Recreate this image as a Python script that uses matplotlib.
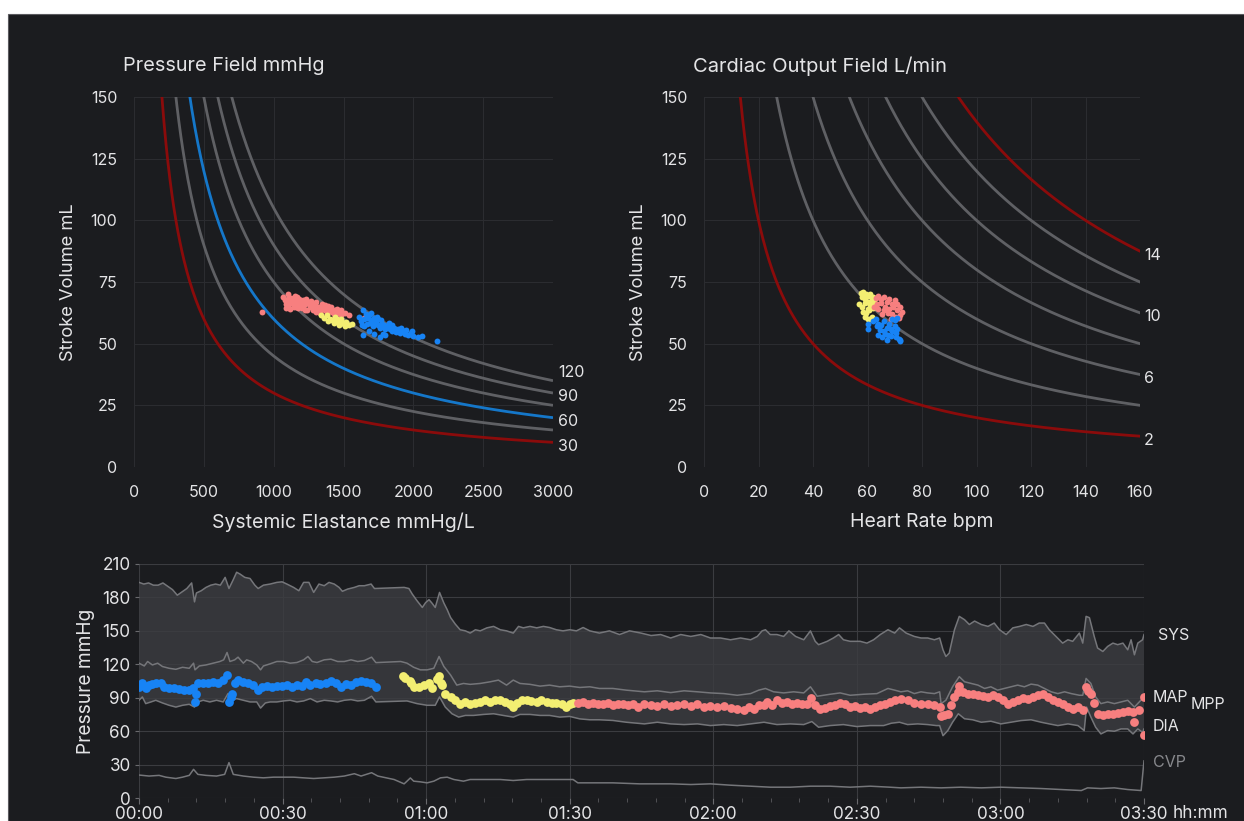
import numpy as np
import matplotlib

matplotlib.use("Agg")
import matplotlib.pyplot as plt
from matplotlib.patches import Rectangle
from matplotlib.transforms import blended_transform_factory

plt.rcParams["font.family"] = ["Inter", "DejaVu Sans"]

BG = "#1b1c1f"
TXT = "#e4e4e6"
GRID = "#2b2c30"
ISO = "#5f6064"
RED = "#8b0b0b"
BLUE_LINE = "#1577c9"
PINK = "#f77f7f"
YELLOW = "#f3ee72"
BLUE = "#1783f5"

# ---- top-left: pressure field (iso-pressure lines, mmHg) ----
pressure_levels = [30, 45, 60, 75, 90, 105]
pressure_labels = [120, 90, 60, 30]

pf_pink_e = [1070, 1085, 1100, 1110, 1125, 1140, 1150, 1165, 1180, 1195, 1210, 1220, 1235, 1250,
             1265, 1280, 1295, 1310, 1325, 1340, 1355, 1370, 1385, 1400, 1420, 1440, 1460, 1480,
             1510, 1540, 1090, 1120, 1160, 1200, 1240, 1280, 1330, 1380, 1430, 1480, 1130, 1175,
             1215, 1260, 1300, 920, 1650, 1080, 1105, 1135, 1170, 1190, 1230, 1270, 1300, 1345,
             1390, 1100, 1145, 1185, 1225, 1255, 1320, 1365, 1410, 1455]
pf_pink_sv = [69, 66, 70, 67, 68.5, 66, 69.5, 67, 68, 66.5, 67.5, 65.5, 66.8, 67,
              64.8, 66, 65.5, 64, 65, 63.5, 64.5, 63.8, 62.8, 64, 63, 63.5, 62.5, 61.5,
              62.5, 61.5, 64.5, 64, 65, 64.5, 63.8, 63.5, 62.5, 62, 62.2, 63.5, 66.5, 64.5,
              66, 65.2, 63, 63, 60.5, 67.5, 68, 67.5, 68.8, 65.5, 68.2, 67.2, 66.8, 66,
              65.3, 65.5, 65, 66.2, 63.8, 66.2, 64.6, 65.5, 64.8, 64]
pf_yellow_e = [1340, 1360, 1380, 1400, 1420, 1440, 1460, 1480, 1500, 1520, 1540, 1560, 1390,
               1430, 1470, 1510, 1450, 1490]
pf_yellow_sv = [61.5, 60.5, 61.8, 60, 59.5, 60.8, 58.8, 59.8, 58, 58.8, 57.5, 57.8, 59.2,
                58.5, 57.5, 57, 60, 58.6]
pf_blue_e = [1610, 1625, 1640, 1650, 1660, 1670, 1685, 1700, 1710, 1720, 1735, 1750, 1760, 1775,
             1790, 1800, 1815, 1830, 1845, 1860, 1875, 1890, 1905, 1920, 1940, 1960, 1980, 2000,
             2030, 2060, 2170, 1640, 1680, 1720, 1760, 1800, 1700, 1650, 1740, 1850, 1950, 1665,
             1690, 1715, 1745, 1770, 1795, 1825, 1870, 1910, 1990, 1630, 1780]
pf_blue_sv = [61, 59, 63.5, 60, 62, 58, 61.5, 59.5, 57, 60.5, 58.5, 59.8, 56.5, 58,
              57.5, 55.8, 57.2, 56, 55, 56.5, 54.8, 55.8, 54.2, 55.5, 54, 53.5, 54.5, 53,
              52.5, 53.3, 51, 53.5, 55, 53.8, 52.5, 53.5, 62.5, 57, 61, 57.5, 55.5, 60.5,
              58.5, 59, 57.5, 59.5, 56.8, 58.5, 55.2, 56.5, 55, 57.5, 54]

# ---- top-right: cardiac output field (iso-CO lines, L/min) ----
co_levels = [2, 4, 6, 8, 10, 12, 14]
co_red_levels = [2, 14]
co_labels = [14, 10, 6, 2]

co_yellow_hr = [57.5, 58, 58.5, 59, 59.5, 60, 60.5, 61, 61.5, 62, 62.5, 57, 58, 59, 60, 61, 62,
                58.5, 59.5, 60.5, 61.5, 59, 60, 61]
co_yellow_sv = [70.5, 69, 71, 68, 70, 69.5, 67, 70, 68.5, 69, 67, 66, 65, 66.5, 64, 65.5, 64.5,
                63, 62.5, 63.5, 61, 61, 60, 59.8]
co_pink_hr = [63, 64, 65, 66, 67, 68, 69, 70, 71, 72, 63.5, 65, 66.5, 68, 69.5, 71, 72.5, 64, 66,
              67.5, 69, 70.5, 72, 68.5, 70, 71.5, 65.5, 62.5]
co_pink_sv = [68.5, 69.5, 68, 69, 67, 68, 66, 67.5, 66, 65, 66, 66.5, 65, 64, 65, 63.5, 63, 64, 63.5,
              62.5, 62, 61, 61.5, 60, 59.8, 60.5, 62, 65]
co_blue_hr = [60, 60.3, 62, 63, 64, 64.5, 65, 66, 66.5, 67, 68, 68.5, 69, 70, 70.5, 71, 71.5, 72,
              64, 65.5, 67, 68.5, 70, 71, 66, 69, 70.5, 72, 63.5, 67.5]
co_blue_sv = [58, 56, 59, 60, 58, 55.5, 57.5, 59, 54, 56.5, 58, 53, 55, 57, 54.5, 56, 52, 51.5,
              53.5, 52.5, 51.5, 56, 59.5, 60.5, 55, 60, 52.5, 51, 57, 53.5]

# ---- bottom: pressure trends (minutes, mmHg) ----
sys_t = [0, 1, 2, 3, 4, 5, 6, 7, 8, 9, 10, 11, 11.6, 12, 13, 14, 15, 16, 17, 18, 18.8, 19.7, 20.4,
         21.1, 22.1, 23.2, 24.2, 24.9, 26, 27.4, 28.8, 29.9, 30.9, 32.3, 33.4, 34.4, 35.5, 36.5,
         37.6, 38.7, 39.7, 40.8, 41.8, 42.5, 43.6, 45, 46, 47.1, 48.5, 49.2,
         55.4, 56.4, 57.1, 58.1, 59.2, 59.9, 60.6, 61.2, 61.9, 62.8, 63.7, 64.4, 65.1, 66.1, 67.1,
         68.2, 69.2, 70.3, 71.3, 72.7, 74.1, 75.5, 76.8, 78.2, 79.3, 80.3, 81.7, 83.1, 84.5, 85.8,
         87.2, 88.6, 90, 91.4, 92.8, 94.2, 96.2, 98.3, 100.4, 102.5,
         104.9, 107, 109, 111.1, 113.2, 115.3, 117.4, 119.4, 121.5, 123.6, 125.7, 127.8, 129.2,
         130.2, 130.9, 131.9, 133.3, 134.7, 135.8, 137.2, 138.9, 140.3, 141.3, 142, 143.8, 145.1,
         146.2, 147.2, 148.6, 150.7, 152.1, 153.5, 154.9,
         156.5, 157.9, 158.9, 160.3, 162, 163.4, 164.8, 166.2, 167.3, 168, 168.6, 169.3, 170.4,
         171.4, 172.5, 173.5, 174.6, 176, 177.4, 178.7, 179.8, 181.2, 182.6, 184, 185.4, 186.8,
         188.1, 189.2, 190.2, 191.6, 193, 194.1, 195.1, 196.5, 197.2, 197.9, 198.6, 199.6, 200.3,
         201.4, 202.4, 203.5, 204.5, 205.6, 206.6, 207.3, 208, 208.7, 209.7, 210]
sys_v = [193.5, 192, 193, 191, 191, 193, 190, 187, 182, 185, 188, 193, 176, 184, 186, 189, 191, 192,
         191, 198, 188, 196, 202.6, 201, 198, 197, 191, 188, 191, 192, 193.5, 194, 192, 189, 186,
         193.5, 193.5, 184.5, 192, 190.5, 193.5, 192, 189, 185.5, 187.5, 189, 190.5, 190.5, 192, 188,
         189, 188, 183, 177, 171, 175.4, 178, 175, 171, 184.5, 175, 169, 162, 156, 151,
         150, 148, 151, 150, 152.7, 154, 151, 150, 148, 154, 152.7, 154, 152.7, 154, 153,
         151, 150, 151, 150, 153, 150, 148, 150, 146.7, 150,
         148, 145.8, 146.7, 143.6, 146.7, 145, 146.7, 143.6, 143.6, 142, 143.6, 142, 145,
         150, 151, 146.7, 146.7, 145, 150, 145, 142, 150, 140.6, 137.6, 140.6, 143.6,
         146.7, 142, 140.6, 140.6, 139, 142, 146.7,
         151, 148, 152.7, 148, 145, 143.6, 143.6, 142, 143.6, 133, 127, 130, 151,
         163, 160, 155.7, 158.8, 155.7, 154, 157, 151, 146.7, 152.7, 154, 155.7, 154,
         157, 157, 151, 145, 139, 142, 140.6, 148, 139, 163, 161.8, 145, 134.6,
         131.5, 136, 139, 137.6, 139, 133, 142, 128.5, 139, 142, 146.7]

map_t = [0, 1.1, 1.8, 2.8, 3.9, 4.9, 6.3, 7.7, 9.1, 10.5, 11.4, 11.7, 12.6, 14, 15.5, 16.9, 17.7,
         18.4, 19, 20, 20.7, 21.8, 22.5, 23.5, 24.6, 25.4, 26, 27.4, 28.8, 30.2, 31.6, 33, 34.4,
         35.3, 36.2, 37.2, 38.7, 40.1, 41.5, 42.9, 44.3, 45.7, 47.1, 48.6, 49.5,
         54.7, 56, 57.4, 58.8, 60.2, 61.6, 62.7, 63.7, 65.1, 66.4, 67.8, 69.2, 71.3, 73.4, 75.1,
         76.8, 78.2, 79.6, 81.7, 83.8, 85.8, 87.9, 90, 92.1, 94.2, 96.2, 99, 101.8,
         105.6, 108.3, 111.1, 113.9, 116.7, 119.4, 122.2, 125, 127.8, 129.5, 130.9, 132.6, 134.7,
         136.8, 138.9, 140.3, 141.7, 144.4, 146.5, 148.6, 151.4, 154.2,
         156.5, 157.9, 159.2, 160.6, 162, 163.4, 164.8, 166.2, 167.3, 167.6, 168.6, 170, 171.4,
         172.5, 173.9, 175.3, 176.7, 178, 179.4, 180.8, 182.2, 183.6, 185, 186.4, 187.8, 189.2,
         190.6, 192, 193.4, 194.8, 196.5, 197.2, 197.9, 198.9, 199.9, 201, 202.4, 203.8, 205.2,
         206.6, 208, 209, 210]
map_v = [121, 118.5, 122.5, 119.4, 121, 118, 116.4, 115.5, 117.3, 116.4, 121, 115, 118.5, 119.4,
         121, 122.5, 124, 130.6, 122.5, 124, 126.4, 121, 124, 122.5, 119.4, 115, 118.5, 120.4,
         122.5, 122.5, 121, 121.6, 124, 127, 122.5, 121.6, 124, 124.6, 122.5, 122.5, 124, 122.5,
         123.4, 126.4, 121.5,
         122.5, 121, 117.3, 115, 115, 116.4, 127, 118, 110.4, 101.3, 102.8, 102, 102.8, 104.3,
         105.8, 101.3, 105.8, 102.8, 102, 100.4, 101.3, 99.8, 100.4, 99.2, 99.8, 98.3, 98.3, 96.8,
         95.3, 96.2, 94.6, 96.2, 95.3, 94.3, 93.7, 92.2, 93.7, 96.8, 98.3, 95.3, 94.3,
         95.3, 94.3, 99.8, 91.3, 93.1, 94.3, 92.2, 93.1, 93.7,
         98.3, 96.8, 95.3, 96.2, 93.7, 95.3, 94.3, 93.7, 95.3, 84.7, 87.7, 99.8, 108.9,
         104.3, 102.8, 101.3, 98.3, 99.8, 96.8, 98.3, 99.8, 101.3, 99.8, 102.2, 101.3, 98.3,
         95.3, 93.7, 95.3, 93.7, 92.2, 92.2, 107.3, 102.8, 90.7, 84.7, 86.2, 84.7, 86.2,
         87.7, 81.6, 86.2, 90.7]

dia_t = [0, 0.7, 1.4, 2.5, 3.5, 4.9, 6.3, 7.7, 9.1, 10.5, 11.6, 12.3, 13.4, 14.8, 16.2, 17.6, 18.6,
         19.3, 20.4, 21.8, 23.2, 24.6, 25.4, 26.4, 27.4, 28.8, 30.2, 31.6, 33, 34.4, 35.8, 37.2,
         38.7, 40.1, 41.5, 42.9, 44.3, 45.7, 47.1, 48.6, 49.5,
         56, 58.1, 60.2, 61.9, 62.8, 64, 65.4, 66.8, 68.2, 69.9, 72, 74.1, 76.1, 78.2, 79.6, 81.7,
         83.8, 85.8, 87.9, 90, 92.1, 94.2, 96.2, 99, 101.8,
         105.6, 108.3, 111.1, 113.9, 116.7, 119.4, 122.2, 125, 127.8, 130.6, 133.3, 136.1, 138.9,
         140.6, 142, 144.4, 147.2, 150, 152.8, 155.6,
         157.2, 158.9, 160.6, 162.7, 164.8, 166.6, 167.3, 168, 169, 170, 171.2, 172.5, 174.2, 176,
         178, 180.1, 182.2, 184.3, 186.4, 188.5, 190.2, 192, 194.1, 196.2, 197.5, 198, 198.9,
         199.9, 201, 202.4, 203.8, 205.2, 206.6, 207.7, 208.7, 209.7, 210]
dia_v = [87.7, 90.7, 84.7, 86.2, 87.7, 85.3, 83.2, 81.6, 83.2, 84.1, 81.6, 86.2, 87.7, 86.2, 87.7,
         86.2, 93.7, 87.7, 89.2, 87.7, 86.2, 86.2, 80.7, 85.3, 86.2, 86.2, 87.1, 87.7, 86.2, 87.1,
         89.2, 86.2, 87.7, 87.1, 86.2, 87.7, 88.3, 87.1, 87.7, 91.3, 86.2,
         87.1, 84.7, 83.2, 83.2, 90.7, 81.6, 75.6, 72.6, 74.1, 74.1, 75, 75.6, 74.1, 72.6, 75, 75,
         74.1, 74.1, 72.6, 73.2, 71, 70.2, 70.2, 69.6, 68,
         66.5, 68, 66.5, 65.9, 66.5, 65, 65.9, 65, 66.5, 68, 65.9, 66.5, 65.9,
         68.6, 63.5, 65, 65.9, 64.1, 65, 65,
         67.1, 68, 65.9, 66.5, 65.9, 65, 65, 55.9, 60.5, 68, 75.6, 71.1, 70.2, 68,
         68.9, 66.5, 68, 69.5, 70.2, 68, 66.5, 65, 66.5, 65, 60.5, 81.6, 72.6,
         63.5, 57.5, 60.5, 59.9, 62, 62, 57.5, 62, 59, 62]

cvp_t = [0, 2.1, 4.2, 5.6, 7.7, 9.1, 10.5, 11.4, 12.3, 14, 16.2, 17.9, 18.8, 19.7, 21.8, 23.9, 26,
         28.1, 30.2, 32.3, 34.4, 36.5, 38.7, 40.8, 42.9, 45, 46.4, 48.6, 49.9,
         53.3, 55.4, 56, 56.7, 57.4, 58.8, 60.2, 61.6, 63, 64.4, 65.8, 67.8, 69.2, 71.3, 75.5, 78.2,
         81, 86.5, 90.7, 91.7, 94.9, 99, 104.6, 107, 111.1, 115.3, 119.4, 123.6, 127.8, 131.9,
         136.1, 140.3, 144.4, 148.6, 152.8, 156.9, 159.2, 163.4, 167.6, 171.7, 176, 180.1, 184.3,
         188.5, 192.7, 196.9, 198.2, 201, 203.8, 206.6, 209.4, 210]
cvp_v = [20.6, 19.7, 20.3, 18.7, 17.5, 18.7, 20.3, 25.7, 21.2, 20.3, 19.7, 21.2, 31.8, 21.2, 19.7,
         18.7, 18.1, 18.7, 18.7, 18.7, 18.1, 17.5, 18.1, 18.7, 19.7, 21.8, 19.7, 22.7, 19.7,
         16.6, 12.7, 15.1, 18, 15.1, 14.5, 13.6, 15.1, 18.1, 18.7, 16.6, 15.1, 16.6, 16.6, 16.6, 15.7,
         16.6, 16.6, 16.6, 13.6, 13.6, 13.6, 12.7, 12.7, 12.7, 12.1, 12.7, 11.5, 10.6, 9.7,
         9.7, 10.6, 10.6, 9.7, 10.6, 9.7, 9.1, 9.7, 9.1, 9.7, 9.1, 9.7, 9.1,
         8.5, 7.6, 6.7, 9.1, 8.5, 9.1, 7.6, 6.7, 33.3]

# MPP points, coloured by phase
mpp_blue_t = [0, 0.7, 1.4, 2.1, 2.8, 3.5, 4.6, 5.3, 6.3, 7.4, 8.4, 9.5, 10.5, 11.2, 11.6, 11.9, 12.3,
              13.4, 14.4, 15.5, 16.5, 17.6, 18.3, 18.8, 19.2, 19.5, 20, 20.7, 21.8, 22.8, 23.9, 24.9,
              25.6, 26.7, 27.8, 28.8, 29.9, 30.9, 32, 33, 34.1, 34.8, 35.8, 36.9, 37.9, 39, 40.1,
              41.1, 42.2, 43.2, 44.3, 45.3, 46.4, 47.4, 48.5, 49.5]
mpp_blue_v = [99.8, 102.8, 98.3, 101.3, 102.2, 103.4, 102.8, 99.8, 98.3, 98.3, 97.4, 96.8, 96.8, 98.3,
              86.2, 93.7, 102.8, 102.8, 103.4, 104.3, 103.4, 105.8, 110.4, 86.2, 90.7, 93.7, 102.8,
              105.8, 104.3, 102.8, 101.3, 96.8, 99.8, 100.4, 99.8, 100.4, 100.4, 101.3, 99.8, 101.3,
              100.4, 104.3, 101.3, 102.8, 102.2, 103.4, 105.2, 102.8, 99.8, 102.2, 101.3, 104.3,
              105.2, 104.3, 103.4, 99.8]
mpp_yellow_t = [55.2, 55.5, 56.6, 56.9, 57.4, 58.5, 59.5, 60.6, 61.2, 62.3, 62.6, 63, 63.3, 64, 65.1,
                66.1, 67.1, 68.2, 69.2, 70.3, 71.3, 72.3, 73.4, 74.4, 75.5, 76.5, 77.5, 78.2, 78.9,
                80, 81, 82, 83.1, 84.1, 85.2, 86.2, 87.2, 88.3, 89.3, 90, 90.7]
mpp_yellow_v = [109.5, 107.3, 105.2, 103.4, 99.2, 99.8, 101.3, 102.8, 98.3, 106.4, 109.5, 102.8,
                101.3, 93.7, 90.7, 87.7, 84.1, 86.2, 84.7, 85.3, 86.2, 87.7, 86.2, 88.3, 87.7, 86.2,
                84.7, 81.6, 85.3, 87.7, 88.3, 87.1, 86.2, 87.7, 86.2, 85.3, 85.3, 84.1, 81.6, 84.7,
                85.3]
mpp_pink_t = [91.7, 92.8, 93.8, 94.9, 95.9, 96.9, 98, 99, 100.1, 101.1, 102.1, 103.2, 104.2, 105.6,
              107, 108.3, 109.7, 111.1, 112.5, 113.9, 115.3, 116.7, 118.1, 119.4, 120.8, 122.2,
              123.6, 125, 126.4, 127.4, 128.5, 129.5, 130.6, 131.3, 132.3, 133.3, 134.4, 135.4,
              136.5, 137.5, 138.5, 139.6, 140.4, 141.3, 142.4, 143.4, 144.4, 145.5, 146.5, 147.6,
              148.6, 149.7, 150.7, 151.7, 152.8, 153.8, 154.9, 155.9, 156.9, 157.9, 159.2, 160.6,
              162, 163.4, 164.8, 166.2, 167.3, 167.6, 168.3, 169, 169.7, 170.4, 171.1, 171.4, 172.1,
              173.2, 174.2, 175.3, 176.3, 177.4, 178.4, 179.4, 180.5, 181.5, 182.6, 183.6, 184.7,
              185.7, 186.8, 187.8, 188.8, 189.9, 190.9, 192, 193, 194.1, 195.1, 196.2, 197.2, 197.9,
              198.4, 198.9, 199.5, 200.3, 201.4, 202.4, 203.5, 204.5, 205.6, 206.6, 207.6, 208, 209,
              210.1, 210.1]
mpp_pink_v = [85.3, 86.2, 84.7, 85.3, 84.1, 84.7, 85.3, 83.2, 84.7, 84.1, 83.2, 84.1, 81.6, 84.1,
              83.2, 82.2, 84.1, 82.2, 83.2, 84.1, 82.8, 84.1, 81.6, 82.2, 81.6, 82.2,
              81, 80.1, 78.6, 81.6, 80.1, 83.2, 83.2, 86.2, 83.2, 87.7, 85.3, 86.2,
              84.7, 85.3, 84.1, 84.1, 90.1, 83.2, 80.1, 81, 82.2, 83.2, 85.3, 84.1,
              81.6, 82.2, 81, 81.6, 80.1, 81.6, 83.2, 84.7, 86.2, 87.7, 89.2, 87.7,
              85.3, 84.7, 84.1, 83.2, 81.6, 73.2, 74.1, 75.6, 83.2, 90.7, 95.3, 100.4, 95.3,
              93.7, 93.1, 92.2, 91.3, 90.7, 92.2, 90.7, 87.7, 84.1, 86.2, 88.3, 90.1,
              89.2, 90.7, 92.2, 93.1, 90.7, 87.7, 86.2, 84.1, 81.6, 80.1, 81.6, 78.6, 99.8,
              96.2, 93.7, 85.3, 75.6, 74.1, 75, 75.6, 76.2, 77.1, 78, 77.1, 68, 78.6,
              90.7, 56.8]

time_ticks = [0, 30, 60, 90, 120, 150, 180, 210]
time_labels = ["00:00", "00:30", "01:00", "01:30", "02:00", "02:30", "03:00", "03:30"]


def px_box(x0, y0, x1, y1):
    # pixel box (from top-left) -> figure fraction rect
    return [x0 / 1244, 1 - y1 / 821, (x1 - x0) / 1244, (y1 - y0) / 821]


def style_field(ax, xmax, xticks):
    ax.set_facecolor("none")
    ax.set_xlim(0, xmax)
    ax.set_ylim(0, 150)
    ax.set_xticks(xticks)
    ax.set_yticks([0, 25, 50, 75, 100, 125, 150])
    for s in ax.spines.values():
        s.set_visible(False)
    ax.grid(True, color=GRID, linewidth=0.8)
    ax.tick_params(colors=TXT, labelsize=11.5, length=0)
    ax.tick_params(axis="x", pad=13)
    ax.tick_params(axis="y", pad=12)
    ax.set_ylabel("Stroke Volume mL", color=TXT, fontsize=13.2, labelpad=10)


fig = plt.figure(figsize=(12.44, 8.21), dpi=100, facecolor="white")
fig.patches.append(Rectangle((8 / 1244, 0), 1, 1 - 14 / 821, transform=fig.transFigure,
                             facecolor=BG, edgecolor="#5a5a5e", linewidth=0.8, zorder=-10))

# ---------- pressure field ----------
ax1 = fig.add_axes(px_box(134, 97, 553, 467))
style_field(ax1, 3000, [0, 500, 1000, 1500, 2000, 2500, 3000])
e = np.linspace(150, 3000, 400)
for p in pressure_levels:
    color = RED if p == 30 else (BLUE_LINE if p == 60 else ISO)
    ax1.plot(e, p * 1000 / e, color=color, lw=2, zorder=2, solid_capstyle="butt")
for p in pressure_labels:
    ax1.text(3035, p / 3 - 1.5, str(p), color=TXT, fontsize=11.5, va="center", ha="left",
             clip_on=False)
ax1.scatter(pf_pink_e, pf_pink_sv, s=18, color=PINK, linewidths=0, zorder=3)
ax1.scatter(pf_yellow_e, pf_yellow_sv, s=18, color=YELLOW, linewidths=0, zorder=3)
ax1.scatter(pf_blue_e, pf_blue_sv, s=18, color=BLUE, linewidths=0, zorder=3)
ax1.set_xlabel("Systemic Elastance mmHg/L", color=TXT, fontsize=14, labelpad=9)
fig.text(123 / 1244, 1 - 66 / 821, "Pressure Field mmHg", color=TXT, fontsize=14.3, va="center")

# ---------- cardiac output field ----------
ax2 = fig.add_axes(px_box(704, 97, 1140, 467))
style_field(ax2, 160, [0, 20, 40, 60, 80, 100, 120, 140, 160])
hr = np.linspace(10, 160, 400)
for c in co_levels:
    color = RED if c in co_red_levels else ISO
    ax2.plot(hr, c * 1000 / hr, color=color, lw=2, zorder=2)
for c in co_labels:
    ax2.text(161.5, c * 1000 / 160 - 1.6, str(c), color=TXT, fontsize=11.5, va="center",
             ha="left", clip_on=False)
ax2.scatter(co_yellow_hr, co_yellow_sv, s=18, color=YELLOW, linewidths=0, zorder=3)
ax2.scatter(co_pink_hr, co_pink_sv, s=18, color=PINK, linewidths=0, zorder=3)
ax2.scatter(co_blue_hr, co_blue_sv, s=18, color=BLUE, linewidths=0, zorder=3)
ax2.set_xlabel("Heart Rate bpm", color=TXT, fontsize=14, labelpad=9)
fig.text(693 / 1244, 1 - 66 / 821, "Cardiac Output Field L/min", color=TXT, fontsize=14.5,
         va="center")

# ---------- pressure trends ----------
ax3 = fig.add_axes(px_box(139, 564, 1144, 798))
ax3.set_facecolor("none")
ax3.set_xlim(0, 210)
ax3.set_ylim(0, 210)
for s in ax3.spines.values():
    s.set_visible(False)
band_x = np.concatenate([sys_t, dia_t[::-1]])
band_y = np.concatenate([sys_v, dia_v[::-1]])
ax3.fill(band_x, band_y, color="#35363a", linewidth=0, zorder=1)
line_kw = dict(color="#75767a", lw=1.1, zorder=2)
ax3.plot(sys_t, sys_v, **line_kw)
ax3.plot(map_t, map_v, **line_kw)
ax3.plot(dia_t, dia_v, **line_kw)
ax3.plot(cvp_t, cvp_v, **line_kw)
ax3.scatter(mpp_blue_t, mpp_blue_v, s=40, color=BLUE, linewidths=0, zorder=3)
ax3.scatter(mpp_yellow_t, mpp_yellow_v, s=40, color=YELLOW, linewidths=0, zorder=3)
ax3.scatter(mpp_pink_t, mpp_pink_v, s=40, color=PINK, linewidths=0, zorder=3)

ax3.set_yticks([0, 30, 60, 90, 120, 150, 180, 210])
ax3.set_xticks(time_ticks)
ax3.set_xticklabels(time_labels)
ax3.set_xticks(np.arange(0, 211, 6), minor=True)
ax3.grid(True, which="major", color="#3b3c40", linewidth=0.8)
ax3.tick_params(colors=TXT, labelsize=12.3)
ax3.tick_params(axis="y", length=3, color="#6a6a6e", pad=3)
ax3.tick_params(axis="x", which="major", length=4, color="#6a6a6e", pad=2)
ax3.tick_params(axis="x", which="minor", length=3, color="#5a5a5e")
ax3.set_ylabel("Pressure mmHg", color=TXT, fontsize=13.8, labelpad=5)

tr = blended_transform_factory(ax3.transData, ax3.transAxes)
lbl = dict(color=TXT, fontsize=11.5, va="center", ha="left", clip_on=False)
ax3.text(212.9, 146, "SYS", **lbl)
ax3.text(211.9, 90, "MAP", **lbl)
ax3.text(219.8, 83.5, "MPP", **lbl)
ax3.text(211.9, 64, "DIA", **lbl)
ax3.text(211.9, 32, "CVP", **{**lbl, "color": "#88898d"})
ax3.text(216, -0.066, "hh:mm", color=TXT, fontsize=12.3, va="center", ha="left", transform=tr,
         clip_on=False)

fig.savefig("out.png", dpi=100, facecolor=fig.get_facecolor())
